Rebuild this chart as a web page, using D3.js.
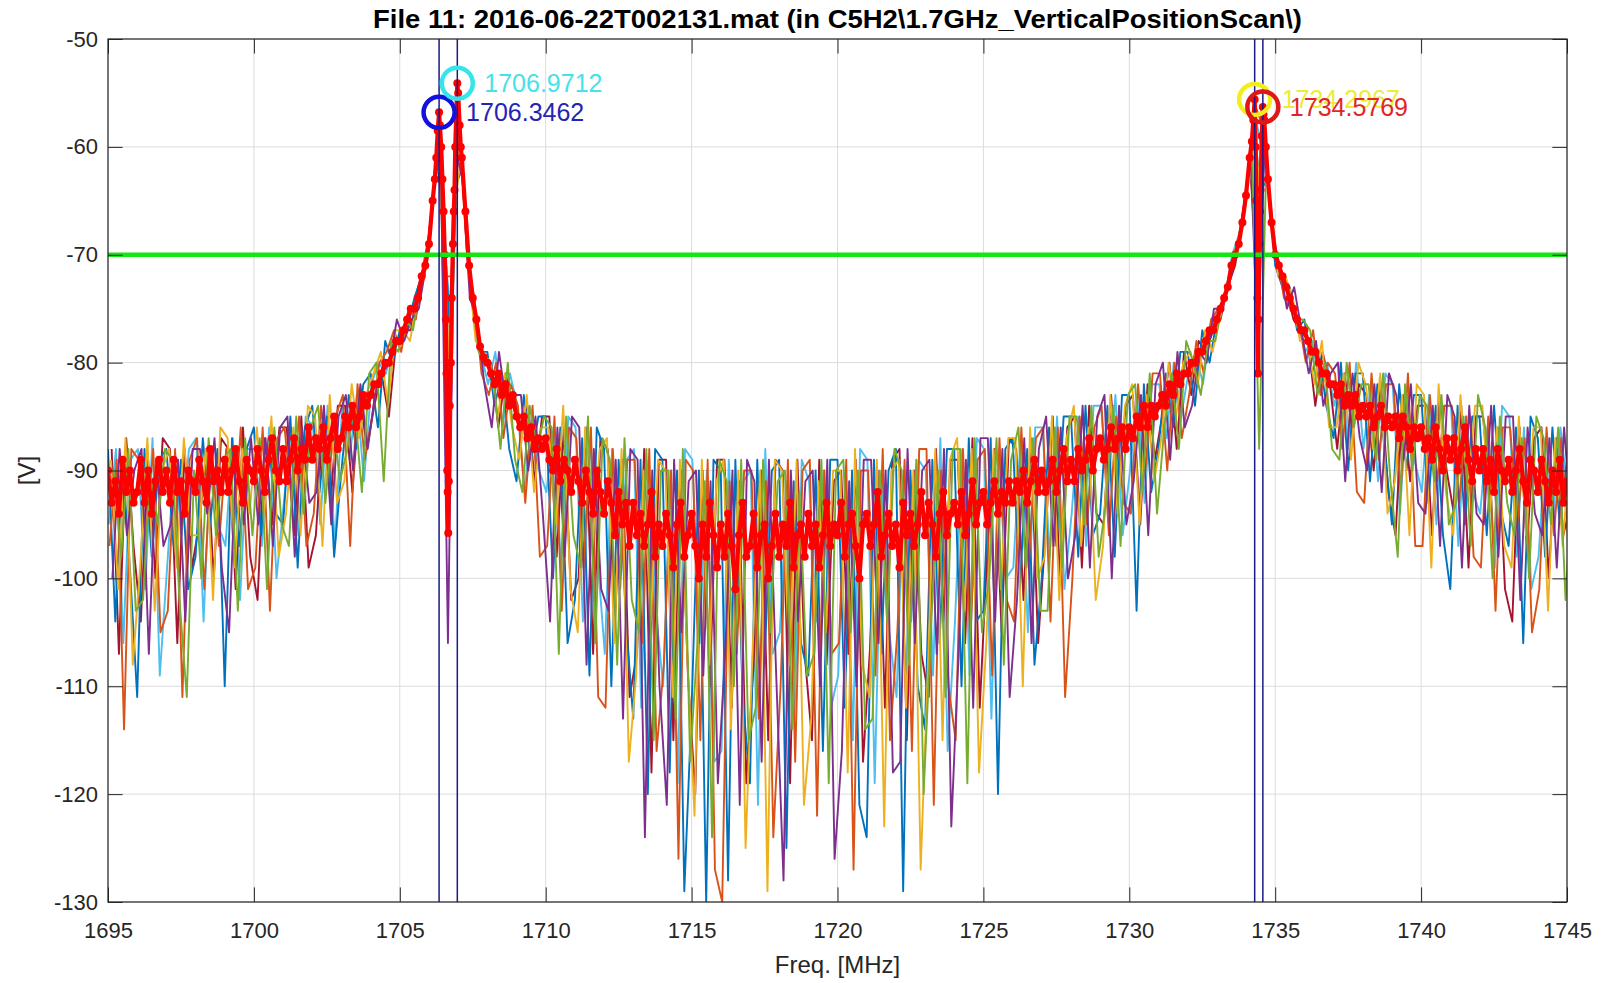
<!DOCTYPE html>
<html><head><meta charset="utf-8">
<script src="https://cdn.jsdelivr.net/npm/d3@7"></script>
<style>
html,body{margin:0;padding:0;background:#fff;}
svg{display:block;font-family:"Liberation Sans",Arial,Helvetica,sans-serif;}
</style></head><body>
<svg id="chart" width="1609" height="983"></svg>
<script>
// ---------- axis data ----------
const xTicks = [1695,1700,1705,1710,1715,1720,1725,1730,1735,1740,1745];
const yTicks = [-130,-120,-110,-100,-90,-80,-70,-60,-50];
const titleText = "File 11: 2016-06-22T002131.mat (in C5H2\\1.7GHz_VerticalPositionScan\\)";
const xLabel = "Freq. [MHz]";
const yLabel = "[V]";

// ---------- scan traces (dB), sampled every 0.25 MHz, each sweep starting at its own freq ----------
const gridStep = 0.25;
const scanA = [
-88,-104,-89,-99, -111,-88,-98,-89, -88,-97,-89,-101, -98,-87,-95,-88, -110,-87,-97,-88,
-86,-96,-87,-94, -95,-85,-99,-86, -84,-92,-85,-98, -90,-83,-88,-82, -81,-86,-78,-80,
-77,-77,-74,-72, -69,-61,-66,-79, -55,-67,-75,-79, -79,-84,-81,-88, -91,-83,-89,-85,
-85,-100,-86,-106, -102,-87,-109,-86, -88,-110,-89,-104, -113,-89,-120,-88, -89,-118,-90,-129,
-112,-90,-130,-89, -90,-128,-89,-111, -119,-89,-108,-90, -89,-125,-91,-106, -109,-90,-116,-89,
-89,-112,-90,-121, -124,-89,-107,-90, -88,-129,-90,-110, -114,-89,-106,-88, -88,-110,-87,-104,
-103,-87,-120,-88, -87,-101,-88,-108, -100,-86,-97,-85, -85,-98,-84,-96, -94,-84,-98,-83,
-83,-103,-82,-92, -88,-81,-86,-79, -79,-84,-77,-80, -76,-74,-71,-69, -64.5,-57.5,-64,-63,
-71,-73,-73,-77, -76,-81,-79,-84, -87,-80,-90,-81, -81,-91,-82,-88, -95,-82,-90,-83,
-83,-93,-84,-96, -101,-84,-95,-85, -85,-96,-84,-94, -97,-86,-106,-85, -87,-98,-86,-95,
-89];
const scanB = [
-97,-89,-114,-88, -89,-96,-88,-105, -103,-88,-111,-89, -87,-101,-88,-97, -88,-96,-86,-101,
-99,-86,-103,-87, -86,-93,-85,-97, -94,-84,-91,-85, -83,-97,-82,-89, -85,-80,-79,-77,
-79,-75,-76,-71, -67.5,-58.5,-72,-72, -58,-70,-74,-81, -83,-80,-87,-82, -84,-93,-84,-98,
-97,-85,-103,-86, -87,-99,-86,-111, -112,-88,-101,-89, -89,-106,-88,-116, -108,-90,-126,-89,
-90,-115,-89,-127, -130,-91,-107,-90, -90,-113,-91,-124, -110,-89,-117,-90, -89,-122,-90,-107,
-106,-89,-127,-90, -90,-109,-88,-115, -105,-89,-116,-88, -88,-121,-90,-110, -115,-88,-106,-89,
-88,-109,-87,-102, -104,-86,-99,-87, -86,-104,-86,-111, -100,-85,-95,-86, -84,-96,-85,-93,
-94,-82,-90,-81, -81,-90,-80,-87, -83,-78,-81,-76, -75,-74,-71,-68, -63,-56,-58,-64.5,
-70,-74,-75,-76, -80,-77,-83,-80, -81,-88,-80,-92, -93,-81,-89,-82, -82,-92,-81,-97,
-97,-83,-91,-84, -84,-93,-85,-98, -99,-85,-103,-86, -86,-95,-87,-105, -101,-86,-96,-87,
-97];
const scanC = [
-89,-101,-87,-108, -99,-87,-103,-90, -88,-99,-87,-96, -96,-88,-102,-86, -87,-99,-88,-94,
-86,-94,-85,-98, -94,-86,-96,-84, -85,-97,-83,-93, -91,-82,-87,-83, -81,-79,-84,-77,
-77,-78,-74,-72, -66,-57,-84,-66, -61,-71,-78,-79, -80,-85,-81,-86, -89,-83,-92,-86,
-86,-95,-84,-101, -105,-86,-97,-88, -87,-106,-88,-117, -109,-90,-104,-89, -90,-111,-89,-107,
-122,-89,-108,-91, -89,-114,-90,-125, -106,-90,-129,-89, -90,-108,-89,-121, -113,-91,-105,-90,
-90,-118,-88,-108, -111,-89,-123,-90, -89,-112,-90,-127, -108,-88,-115,-89, -87,-103,-88,-118,
-106,-88,-101,-87, -87,-110,-86,-100, -98,-85,-102,-87, -84,-97,-86,-102, -97,-83,-94,-84,
-82,-95,-83,-91, -87,-80,-85,-80, -79,-82,-77,-79, -76,-73,-70,-67, -62,-65,-57,-66.5,
-72,-72,-74,-78, -78,-82,-78,-86, -86,-81,-89,-80, -82,-88,-81,-94, -91,-83,-96,-82,
-83,-99,-82,-92, -96,-83,-92,-84, -84,-94,-86,-97, -99,-85,-96,-86, -86,-103,-87,-97,
-88];
const scanD = [
-100,-88,-96,-90, -88,-107,-89,-97, -95,-89,-104,-88, -88,-94,-87,-99, -105,-88,-95,-87,
-95,-87,-97,-86, -85,-98,-86,-93, -92,-84,-95,-85, -83,-90,-82,-88, -83,-81,-80,-76,
-78,-76,-75,-71, -64,-60,-106,-60, -63,-74,-76,-82, -86,-79,-84,-83, -83,-90,-85,-94,
-104,-86,-98,-85, -86,-108,-88,-101, -103,-89,-113,-88, -89,-124,-90,-110, -121,-89,-105,-91,
-90,-109,-91,-119, -107,-90,-121,-89, -91,-117,-89,-109, -128,-90,-104,-91, -90,-110,-89,-126,
-116,-91,-110,-89, -89,-106,-90,-118, -117,-88,-106,-90, -89,-107,-88,-123, -107,-89,-112,-87,
-87,-104,-88,-111, -102,-87,-106,-88, -85,-97,-86,-100, -96,-84,-99,-85, -83,-100,-84,-95,
-91,-83,-96,-82, -80,-89,-79,-86, -84,-79,-80,-75, -75,-73,-70,-66, -60.5,-78,-59,-68,
-71,-75,-73,-77, -81,-78,-84,-81, -80,-91,-81,-87, -90,-82,-92,-81, -83,-89,-82,-93,
-94,-84,-97,-83, -85,-99,-84,-94, -95,-84,-98,-85, -85,-102,-86,-94, -96,-87,-99,-86,
-95];
const scanE = [
-90,-98,-88,-103, -102,-90,-95,-88, -89,-102,-111,-90, -100,-87,-96,-89, -88,-103,-87,-96,
-87,-101,-86,-95, -97,-85,-94,-86, -84,-93,-85,-91, -88,-84,-92,-81, -80,-91,-78,-79,
-76,-77,-73,-70, -62.5,-62,-90,-55.5, -65,-73,-79,-80, -81,-88,-80,-89, -92,-84,-88,-85,
-86,-107,-85,-96, -99,-85,-106,-87, -89,-108,-87,-102, -105,-88,-115,-90, -90,-113,-88,-117,
-106,-91,-124,-89, -91,-110,-89,-115, -112,-89,-105,-91, -90,-114,-92,-109, -107,-89,-119,-90,
-89,-105,-90,-114, -113,-90,-104,-88, -90,-108,-89,-120, -105,-90,-111,-88, -88,-119,-87,-105,
-100,-87,-108,-89, -86,-99,-87,-103, -103,-86,-99,-85, -85,-95,-84,-98, -93,-84,-97,-83,
-82,-92,-81,-94, -86,-81,-88,-78, -80,-83,-78,-78, -74,-72,-69,-66, -59.5,-88,-61,-69.5,
-72,-73,-76,-76, -77,-83,-80,-88, -89,-80,-86,-82, -82,-89,-81,-91, -98,-82,-90,-83,
-84,-91,-83,-95, -93,-85,-97,-83, -86,-100,-85,-93, -96,-87,-100,-85, -87,-95,-86,-102,
-90];
const scanF = [
-95,-88,-106,-89, -88,-101,-87,-109, -99,-89,-96,-88, -87,-104,-88,-95, -97,-87,-102,-88,
-88,-97,-86,-100, -93,-86,-96,-85, -86,-95,-84,-97, -84,-89,-83,-91, -82,-80,-81,-78,
-78,-76,-74,-72, -68,-60,-69,-77, -57,-68,-75,-79, -82,-79,-86,-81, -84,-92,-85,-90,
-92,-86,-99,-85, -86,-104,-87,-98, -107,-88,-100,-89, -88,-112,-89,-103, -110,-90,-119,-88,
-89,-106,-90,-117, -116,-89,-104,-91, -90,-121,-88,-107, -105,-91,-113,-89, -91,-104,-90,-112,
-109,-90,-115,-88, -89,-119,-91,-105, -111,-90,-104,-89, -90,-109,-87,-116, -104,-88,-109,-87,
-88,-113,-89,-100, -99,-87,-105,-86, -86,-98,-85,-101, -94,-85,-97,-84, -84,-92,-83,-96,
-90,-83,-93,-82, -82,-87,-80,-85, -81,-79,-82,-77, -75,-74,-70,-68, -64,-56.5,-60,-64,
-71,-72,-75,-76, -79,-78,-82,-80, -84,-81,-88,-80, -88,-82,-91,-81, -82,-94,-83,-89,
-92,-83,-95,-84, -84,-97,-85,-92, -94,-86,-99,-84, -85,-98,-86,-101, -98,-87,-94,-86,
-92];
const scanG = [
-88,-107,-87,-97, -104,-89,-100,-87, -88,-106,-88,-99, -95,-88,-100,-87, -88,-101,-86,-98,
-102,-87,-95,-86, -86,-96,-85,-99, -96,-85,-93,-84, -84,-92,-83,-88, -84,-81,-85,-78,
-77,-77,-73,-71, -65,-58,-92,-64, -62,-72,-77,-80, -80,-86,-81,-84, -86,-84,-91,-85,
-85,-98,-86,-102, -100,-86,-107,-87, -88,-104,-89,-111, -107,-88,-118,-89, -89,-115,-90,-109,
-120,-90,-110,-89, -89,-112,-91,-119, -108,-90,-115,-89, -90,-119,-89,-107, -115,-89,-108,-91,
-90,-107,-89,-117, -106,-90,-112,-89, -88,-115,-90,-107, -111,-88,-104,-89, -89,-106,-87,-112,
-98,-88,-105,-87, -88,-102,-87,-106, -96,-85,-100,-86, -85,-99,-84,-94, -95,-83,-92,-84,
-83,-95,-82,-89, -85,-80,-88,-79, -83,-78,-79,-77, -76,-73,-71,-67, -61,-72,-57.5,-67,
-72,-73,-76,-77, -78,-84,-79,-82, -88,-81,-86,-82, -83,-90,-82,-92, -96,-83,-91,-84,
-84,-96,-83,-90, -94,-84,-99,-85, -85,-93,-86,-101, -104,-86,-97,-87, -86,-100,-87,-96,
-93];
// drawing order (bottom to top), sweep start frequency and colour of each trace
const scanSeries = [scanF, scanG, scanA, scanB, scanC, scanD, scanE];
const scanStart  = [1695.025, 1695.125, 1695.00, 1695.05, 1695.10, 1695.15, 1695.20];
const scanColors = ["#4DBEEE","#A2142F","#0072BD","#D95319","#EDB120","#7E2F8E","#77AC30"];

// ---------- averaged trace (red, dots + line), every 0.125 MHz ----------
const avgStart = 1695, avgStep = 0.125;
const avgVals = [
-90,-93,-91,-94,-89,-92,-90,-93, -92,-89,-93,-90,-94,-91,-89,-92, -90,-93,-89,-92,-91,-94,-90,-91,
-92,-89,-91,-93,-88,-91,-90,-92, -89,-92,-90,-88,-91,-93,-89,-90, -91,-88,-90,-92,-89,-87,-90,-91,
-88,-91,-89,-87,-90,-88,-89,-86, -89,-87,-88,-86,-89,-87,-85,-88, -87,-85,-86,-84,-86,-85,-83,-84,
-83,-82,-82,-81,-80,-80,-79,-78, -78,-77,-76,-75,-75,-74,-72,-71, -69,-65,-61,-58,-66,-90,-80,-64,
-55,-61,-66,-71,-74,-76,-78.5,-79.5, -80,-81,-82,-81,-83,-82,-84,-83, -85,-86,-85,-87,-86,-88,-87,-88,
-87,-89,-90,-88,-91,-89,-90,-92, -89,-91,-93,-90,-92,-94,-90,-92, -94,-91,-93,-96,-92,-95,-93,-97,
-93,-96,-94,-97,-95,-92,-98,-95, -97,-94,-96,-99,-95,-93,-98,-96, -94,-97,-100,-95,-98,-93,-96,-99,
-95,-98,-94,-97,-101,-96,-93,-98, -97,-94,-99,-96,-95,-100,-97,-94, -98,-95,-97,-93,-99,-96,-95,-98,
-94,-97,-95,-99,-96,-93,-97,-95, -96,-93,-98,-95,-94,-97,-100,-95, -94,-97,-95,-92,-98,-96,-94,-97,
-95,-99,-93,-96,-94,-97,-95,-92, -96,-93,-95,-98,-94,-92,-96,-94, -93,-95,-92,-96,-94,-91,-95,-93,
-92,-95,-93,-91,-94,-92,-93,-91, -93,-91,-92,-90,-93,-91,-89,-92, -90,-92,-91,-89,-92,-90,-88,-91,
-89,-91,-88,-90,-89,-87,-90,-88, -87,-89,-88,-86,-88,-87,-86,-88, -86,-87,-85,-86,-84,-86,-84,-85,
-84,-83,-84,-82,-83,-81,-82,-81, -81,-80,-80,-79,-79,-78,-77,-77, -76,-75,-74,-73,-71,-70,-69,-67,
-64.5,-61,-57.5,-70,-64,-57.5,-63,-67, -70,-71,-72,-73,-74,-75,-76,-77, -77,-78,-79,-79,-80,-81,-81,-82,
-82,-83,-82,-84,-83,-84,-83,-85, -84,-85,-84,-86,-85,-84,-86,-85, -86,-85,-87,-85,-86,-88,-86,-87,
-86,-88,-87,-89,-86,-88,-90,-87, -89,-87,-90,-88,-86,-89,-91,-88, -90,-88,-91,-89,-92,-88,-90,-91,
-89,-92,-90,-88,-91,-93,-89,-90, -92,-89,-91,-93,-90,-92,-89,-93,
-91];
// extra fine samples around the two resonance pairs
const avgFineFreq = [1706.2,1706.3,1706.3462,1706.42,1706.46,1706.54,1706.58,1706.60,1706.64,1706.66,
  1706.68,1706.71,1706.78,1706.82,1706.85,1706.90,1706.94,1706.9712,1707.05,1707.09,
  1734.2,1734.2967,1734.33,1734.35,1734.39,1734.41,1734.43,1734.46,1734.48,1734.54,1734.5769,1734.6,1734.68];
const avgFineVals = [-63,-58.5,-56.8,-60,-63,-70,-76,-81,-92,-95.8,
  -91,-84,-74,-69,-66,-60,-56.5,-54.1,-58,-60,
  -59.5,-55.6,-60,-65,-74,-81,-76,-69,-66,-59,-56.3,-57,-60];

// ---------- threshold & peaks ----------
const thresholdLevel = -70;
const peakFreq   = [1706.3462, 1706.9712, 1734.2967, 1734.5769];
const peakVal    = [-56.8, -54.1, -55.6, -56.3];
const peakLabels = ["1706.3462","1706.9712","1734.2967","1734.5769"];
const peakCircleColors = ["#1212dc","#36e4ec","#f2ee1c","#dc1818"];
const peakTextColors   = ["#2424b4","#44e2ea","#ecec36","#e02626"];

// ---------- drawing ----------
const L = 108, R = 1567, T = 39, B = 902;
const x = d3.scaleLinear().domain([1695,1745]).range([L,R]);
const y = d3.scaleLinear().domain([-130,-50]).range([B,T]);
const svg = d3.select("#chart");
const ink = "#262626";

svg.append("rect").attr("x",0).attr("y",0).attr("width",1609).attr("height",983).attr("fill","#fff");

// grid
const grid = svg.append("g");
grid.selectAll("line.gx").data(xTicks).join("line")
  .attr("x1",d=>x(d)).attr("x2",d=>x(d)).attr("y1",T).attr("y2",B)
  .attr("stroke","#dcdcdc").attr("stroke-width",1);
grid.selectAll("line.gy").data(yTicks).join("line")
  .attr("x1",L).attr("x2",R).attr("y1",d=>y(d)).attr("y2",d=>y(d))
  .attr("stroke","#dcdcdc").attr("stroke-width",1);

svg.append("defs").append("clipPath").attr("id","clip")
  .append("rect").attr("x",L).attr("y",T).attr("width",R-L).attr("height",B-T);
const plot = svg.append("g").attr("clip-path","url(#clip)");

const line = d3.line().x(d=>x(d[0])).y(d=>y(d[1]));
scanSeries.forEach((vals,k)=>{
  const pts = vals.map((v,i)=>[scanStart[k]+i*gridStep, v]);
  plot.append("path").datum(pts).attr("d",line)
    .attr("fill","none").attr("stroke",scanColors[k])
    .attr("stroke-width",1.9).attr("stroke-linejoin","round");
});

const avgPts = avgVals.map((v,i)=>[avgStart+i*avgStep, v])
  .concat(avgFineFreq.map((f,i)=>[f, avgFineVals[i]]))
  .sort((a,b)=>a[0]-b[0]);
plot.append("path").datum(avgPts).attr("d",line)
  .attr("fill","none").attr("stroke","#ff0000").attr("stroke-width",4.2).attr("stroke-linejoin","round");
plot.append("g").selectAll("circle").data(avgPts).join("circle")
  .attr("cx",d=>x(d[0])).attr("cy",d=>y(d[1])).attr("r",4).attr("fill","#ff0000");

// threshold line
plot.append("line").attr("x1",x(1695)).attr("x2",x(1745))
  .attr("y1",y(thresholdLevel)).attr("y2",y(thresholdLevel))
  .attr("stroke","#14e614").attr("stroke-width",4.5);

// vertical peak lines
plot.selectAll("line.v").data(peakFreq).join("line")
  .attr("x1",d=>x(d)).attr("x2",d=>x(d)).attr("y1",T).attr("y2",B)
  .attr("stroke","#1a1a86").attr("stroke-width",1.5);

// axes
const tick = 14.6;
const fmt = d=>String(d);
const gx = svg.append("g").attr("transform",`translate(0,${B})`)
  .call(d3.axisBottom(x).tickValues(xTicks).tickSizeInner(-tick).tickSizeOuter(0).tickPadding(20).tickFormat(fmt));
const gy = svg.append("g").attr("transform",`translate(${L},0)`)
  .call(d3.axisLeft(y).tickValues(yTicks).tickSizeInner(-tick).tickSizeOuter(0).tickPadding(10).tickFormat(fmt));
const gt = svg.append("g").attr("transform",`translate(0,${T})`)
  .call(d3.axisTop(x).tickValues(xTicks).tickSizeInner(-tick).tickSizeOuter(0).tickFormat(""));
const gr = svg.append("g").attr("transform",`translate(${R},0)`)
  .call(d3.axisRight(y).tickValues(yTicks).tickSizeInner(-tick).tickSizeOuter(0).tickFormat(""));
[gx,gy,gt,gr].forEach(g=>{
  g.select(".domain").remove();
  g.selectAll(".tick line").attr("stroke",ink).attr("stroke-width",1);
  g.attr("font-family",null).attr("font-size",null);
  g.selectAll("text").attr("fill",ink).style("font-size","22px")
   .style("font-family",'"Liberation Sans",Arial,sans-serif');
});
svg.append("rect").attr("x",L).attr("y",T).attr("width",R-L).attr("height",B-T)
  .attr("fill","none").attr("stroke",ink).attr("stroke-width",1.2);

// peak markers
const pk = svg.append("g");
peakFreq.forEach((f,i)=>{
  pk.append("circle").attr("cx",x(f)).attr("cy",y(peakVal[i])).attr("r",15.5)
    .attr("fill","none").attr("stroke",peakCircleColors[i]).attr("stroke-width",4.5);
  pk.append("text").attr("x",x(f)+27).attr("y",y(peakVal[i]))
    .attr("dominant-baseline","central").attr("fill",peakTextColors[i])
    .style("font-size","25px").text(peakLabels[i]);
});

// title & labels
svg.append("text").attr("x",(L+R)/2).attr("y",28).attr("text-anchor","middle")
  .attr("fill","#000").style("font-size","26px").style("font-weight","bold")
  .attr("textLength",929).attr("lengthAdjust","spacingAndGlyphs").text(titleText);
svg.append("text").attr("x",(L+R)/2).attr("y",973).attr("text-anchor","middle")
  .attr("fill",ink).style("font-size","24px").text(xLabel);
svg.append("text").attr("transform",`translate(26,${(T+B)/2}) rotate(-90)`)
  .attr("text-anchor","middle").attr("dominant-baseline","central")
  .attr("fill",ink).style("font-size","24px").text(yLabel);
</script>
</body></html>
